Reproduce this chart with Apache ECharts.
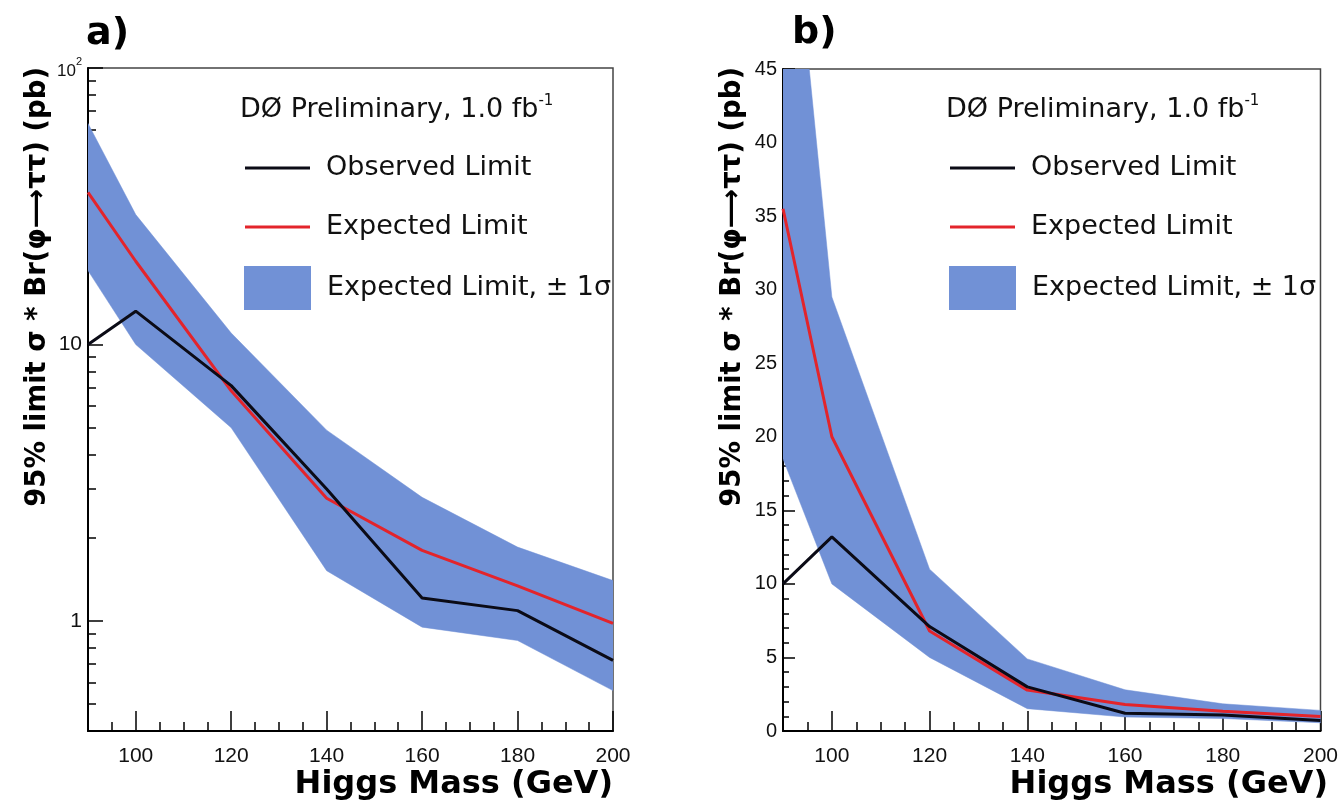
<!DOCTYPE html>
<html><head><meta charset="utf-8">
<script src="https://cdn.jsdelivr.net/npm/echarts@6/dist/echarts.min.js"></script>
<style>html,body{margin:0;padding:0;background:#fff}#c{width:1341px;height:805px}</style>
</head><body><div id="c"></div>
<script>
// ---- data ----
const mass = [90, 100, 120, 140, 160, 180, 200];
const observed = [10, 13.2, 7.1, 3.0, 1.21, 1.09, 0.72];
const expected = [35.5, 20, 6.8, 2.78, 1.8, 1.34, 0.98];
const bandLow = [18.5, 10, 5.0, 1.52, 0.95, 0.85, 0.56];
const bandHigh = [63, 29.5, 11, 4.9, 2.8, 1.85, 1.4];
const xMajorTicks = [100, 120, 140, 160, 180, 200];
const logMinorTicks = [0.4, 0.5, 0.6, 0.7, 0.8, 0.9, 2, 3, 4, 5, 6, 7, 8, 9, 20, 30, 40, 50, 60, 70, 80, 90];
const names = ['Observed Limit', 'Expected Limit', 'Expected Limit, \u00b1 1\u03c3'];
const yName = '95% limit \u03c3 * Br(\u03c6\u27f6\u03c4\u03c4) (pb)';
const xName = 'Higgs Mass (GeV)';

const FONT = '"Liberation Sans", Arial, Helvetica, sans-serif';
const WFONT = '"DejaVu Sans", Verdana, sans-serif';
const BAND = '#7191d6';
const RED = '#e3242b';
const BLACK = '#0b0b16';

const chart = echarts.init(document.getElementById('c'), null, {renderer: 'canvas'});

function bandRender(params, api) {
  if (params.dataIndex !== 0) return;
  const pts = [];
  for (let i = 0; i < mass.length; i++) pts.push(api.coord([mass[i], bandHigh[i]]));
  for (let i = mass.length - 1; i >= 0; i--) pts.push(api.coord([mass[i], bandLow[i]]));
  return {type: 'polygon', shape: {points: pts}, style: {fill: BAND, stroke: BAND, lineWidth: 0.5}};
}

function xAxes(grid) {
  return [
    {gridIndex: grid, type: 'value', position: 'bottom', min: 90, max: 200, interval: 5,
     axisLine: {show: true, onZero: false, lineStyle: {color: '#000', width: 2}},
     axisTick: {show: true, inside: true, length: 9, lineStyle: {color: '#000', width: 1.5}},
     axisLabel: {customValues: xMajorTicks, fontSize: 21, fontFamily: FONT, color: '#111', margin: 15},
     splitLine: {show: false}},
    {gridIndex: grid, type: 'value', position: 'bottom', min: 90, max: 200,
     axisLine: {show: false, onZero: false},
     axisTick: {show: true, inside: true, length: 20, customValues: xMajorTicks, lineStyle: {color: '#000', width: 1.5}},
     axisLabel: {show: false}, splitLine: {show: false}}
  ];
}

function lineSeries(name, data, color, xi, yi) {
  return {type: 'line', name: name, xAxisIndex: xi, yAxisIndex: yi,
    data: mass.map((m, i) => [m, data[i]]), showSymbol: false, symbol: 'none',
    color: color, lineStyle: {color: color, width: 3}, itemStyle: {color: color},
    clip: true, z: name === names[0] ? 4 : 3, animation: false};
}

function bandSeries(xi, yi) {
  return {type: 'custom', name: names[2], xAxisIndex: xi, yAxisIndex: yi, clip: true,
    renderItem: bandRender, itemStyle: {color: BAND}, color: BAND,
    encode: {x: 0, y: [1, 2]},
    data: mass.map((m, i) => [m, bandLow[i], bandHigh[i]]), z: 2, animation: false};
}

function legends(left) {
  const ts = {fontSize: 27, fontFamily: WFONT, fontWeight: 'normal', color: '#111', lineHeight: 32, padding: [0, 0, 0, 11]};
  return [
    {data: [names[0], names[1]], orient: 'vertical', left: left, top: 152, itemWidth: 65, itemHeight: 3,
     itemGap: 27, icon: 'rect', textStyle: ts, selectedMode: false, padding: 0},
    {data: [names[2]], orient: 'vertical', left: left - 1, top: 266, itemWidth: 67, itemHeight: 44,
     icon: 'rect', textStyle: ts, selectedMode: false, padding: 0}
  ];
}

const headerRich = {
  m: {fontSize: 27, fontFamily: WFONT, fontWeight: 'normal', color: '#111', lineHeight: 32},
  s: {fontSize: 15, fontFamily: WFONT, fontWeight: 'normal', color: '#111', lineHeight: 17, verticalAlign: 'top'}
};

const titleStyle = {fontSize: 38, fontWeight: 'bold', fontFamily: WFONT, color: '#000'};
const xNameStyle = {fontSize: 32, fontWeight: 'bold', fontFamily: WFONT, color: '#000'};

const option = {
  backgroundColor: '#fff',
  animation: false,
  title: [
    {text: 'a)', left: 86, top: 15, padding: 0, textStyle: titleStyle},
    {text: 'b)', left: 792, top: 14, padding: 0, textStyle: titleStyle},
    {text: '{m|D\u00d8 Preliminary, 1.0 fb}{s|-1}', left: 240, top: 94, padding: 0, textStyle: {fontWeight: 'normal', rich: headerRich}},
    {text: '{m|D\u00d8 Preliminary, 1.0 fb}{s|-1}', left: 946, top: 94, padding: 0, textStyle: {fontWeight: 'normal', rich: headerRich}},
    {text: xName, right: 728, top: 769, padding: 0, textStyle: xNameStyle},
    {text: xName, right: 13, top: 769, padding: 0, textStyle: xNameStyle}
  ],
  legend: [...legends(245), ...legends(950)],
  grid: [
    {left: 88, right: 728, top: 68, bottom: 74, show: true, borderColor: '#444', borderWidth: 1.5, backgroundColor: 'transparent'},
    {left: 783, right: 14, top: 69, bottom: 74, show: true, borderColor: '#444', borderWidth: 1.5, backgroundColor: 'transparent'}
  ],
  xAxis: [...xAxes(0), ...xAxes(1)],
  yAxis: [
    {gridIndex: 0, type: 'log', logBase: 10, min: 0.4, max: 100, position: 'left',
     axisLine: {show: true, onZero: false, lineStyle: {color: '#000', width: 2}},
     axisTick: {show: true, inside: true, length: 15, lineStyle: {color: '#000', width: 1.5}},
     axisLabel: {fontSize: 21, fontFamily: FONT, color: '#111', margin: 6,
       formatter: function (v) {
         const r = Math.round(v * 1000) / 1000;
         if (r === 100) return '{s|10}{p|2}';
         if (r === 10) return '10';
         if (r === 1) return '1';
         return '';
       },
       rich: {s: {fontSize: 17, fontFamily: FONT, color: '#111', padding: [6, 0, 0, 0]}, p: {fontSize: 11, fontFamily: FONT, color: '#111', verticalAlign: 'top'}}},
     splitLine: {show: false}},
    {gridIndex: 0, type: 'value', min: Math.log10(0.4), max: 2, position: 'left',
     axisLine: {show: false, onZero: false},
     axisTick: {show: true, inside: true, length: 8, customValues: logMinorTicks.map(v => Math.log10(v)), lineStyle: {color: '#000', width: 1.5}},
     axisLabel: {show: false}, splitLine: {show: false}},
    {gridIndex: 1, type: 'value', min: 0, max: 45, interval: 5, position: 'left',
     axisLine: {show: true, onZero: false, lineStyle: {color: '#000', width: 2}},
     axisTick: {show: true, inside: true, length: 12, lineStyle: {color: '#000', width: 1.5}},
     minorTick: {show: true, splitNumber: 5, length: 6, lineStyle: {color: '#000', width: 1.5}},
     axisLabel: {fontSize: 20, fontFamily: FONT, color: '#111', margin: 6},
     splitLine: {show: false}}
  ],
  series: [
    bandSeries(0, 0),
    lineSeries(names[1], expected, RED, 0, 0),
    lineSeries(names[0], observed, BLACK, 0, 0),
    bandSeries(2, 2),
    lineSeries(names[1], expected, RED, 2, 2),
    lineSeries(names[0], observed, BLACK, 2, 2)
  ],
  graphic: [
    {type: 'text', x: 38, y: 67, rotation: Math.PI / 2, style: {text: yName, font: 'bold 27.5px ' + WFONT, fill: '#000', align: 'right', verticalAlign: 'middle'}},
    {type: 'text', x: 733, y: 67, rotation: Math.PI / 2, style: {text: yName, font: 'bold 27.5px ' + WFONT, fill: '#000', align: 'right', verticalAlign: 'middle'}}
  ]
};
chart.setOption(option);
</script>
</body></html>
